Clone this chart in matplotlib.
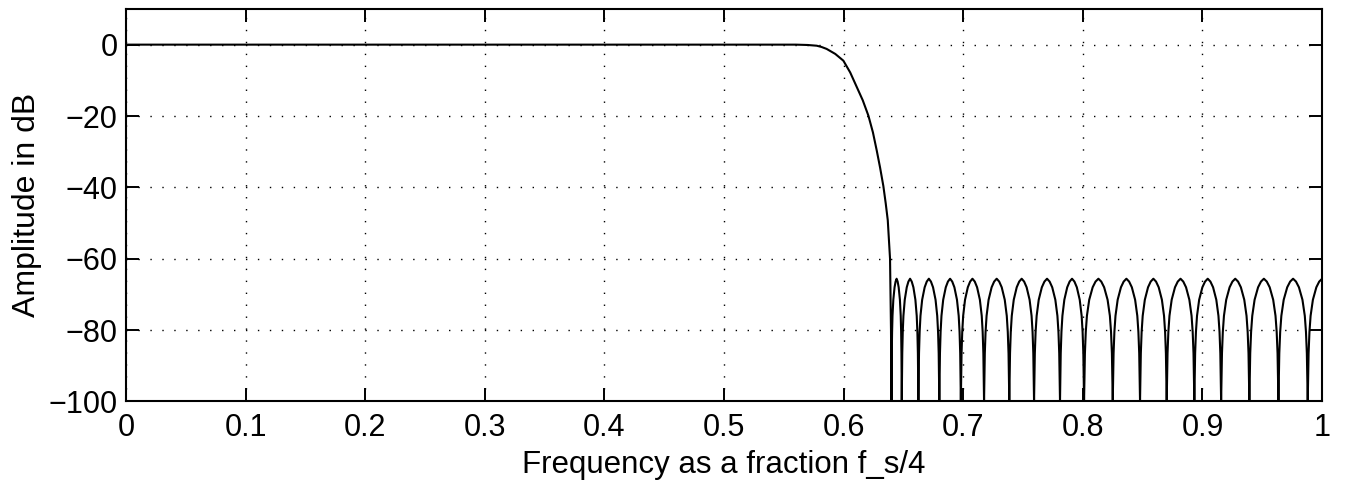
import numpy as np
import matplotlib
matplotlib.use("Agg")
import matplotlib.pyplot as plt

# passband + transition band
trans_freq = [0.0, 0.56, 0.57, 0.5775, 0.5815, 0.5858, 0.593, 0.5998, 0.6055,
              0.611, 0.616, 0.6207, 0.6245, 0.6277, 0.6305, 0.6332, 0.6352,
              0.6369, 0.6388, 0.6396]
trans_db = [0.0, 0.0, -0.1, -0.3, -0.65, -1.2, -2.6, -4.5, -7.8,
            -11.9, -15.6, -19.9, -24.6, -29.7, -34.5, -39.6, -44.5,
            -49.2, -60.0, -80.0]

# stopband nulls (last one lies just past the right edge)
null_freq = [0.640, 0.6486, 0.6625, 0.680, 0.698, 0.7174, 0.7385, 0.7592, 0.7809,
             0.8010, 0.8250, 0.8478, 0.8701, 0.8932, 0.9156, 0.9392, 0.9635,
             0.9880, 1.012]

# shape of one stopband lobe: position inside lobe (0..1) and level in dB
lobe_pos = [0.0, 0.01, 0.03, 0.06, 0.10, 0.18, 0.30, 0.40, 0.50,
            0.60, 0.70, 0.82, 0.90, 0.94, 0.97, 0.99, 1.0]
lobe_db = [-100, -96, -86.5, -80.5, -76, -71.5, -68, -66.4, -65.6,
           -66.4, -68, -71.5, -76, -80.5, -86.5, -96, -100]

x_ticks = [0, 0.1, 0.2, 0.3, 0.4, 0.5, 0.6, 0.7, 0.8, 0.9, 1]
x_ticklabels = ['0', '0.1', '0.2', '0.3', '0.4', '0.5', '0.6', '0.7', '0.8', '0.9', '1']
y_ticks = [-100, -80, -60, -40, -20, 0]

# stitch the curve together
freq = list(trans_freq)
amp = list(trans_db)
for a, b in zip(null_freq[:-1], null_freq[1:]):
    for p, d in zip(lobe_pos, lobe_db):
        freq.append(a + p * (b - a))
        amp.append(d)

plt.rcParams['font.family'] = ['Liberation Sans', 'DejaVu Sans']

fig = plt.figure(figsize=(13.47, 4.84), dpi=100)
ax = fig.add_axes([0.0935, 0.1705, 0.888, 0.811])

ax.plot(freq, amp, color='black', linewidth=1.5, solid_joinstyle='round')

ax.set_xlim(0, 1)
ax.set_ylim(-100, 10)
ax.set_xticks(x_ticks)
ax.set_xticklabels(x_ticklabels)
ax.set_yticks(y_ticks)

ax.grid(True, color='black', linestyle=(0, (1, 7.6)), linewidth=1.0)
ax.tick_params(direction='in', length=9.5, width=1.4, top=True, right=True,
               labelsize=22, colors='black')
ax.tick_params(axis='x', pad=8)
ax.tick_params(axis='y', pad=6)
for s in ax.spines.values():
    s.set_linewidth(1.5)

ax.set_xlabel('Frequency as a fraction f_s/4', fontsize=22.5, labelpad=5)
ax.set_ylabel('Amplitude in dB', fontsize=23, labelpad=5)

fig.savefig('out.png', dpi=100)
